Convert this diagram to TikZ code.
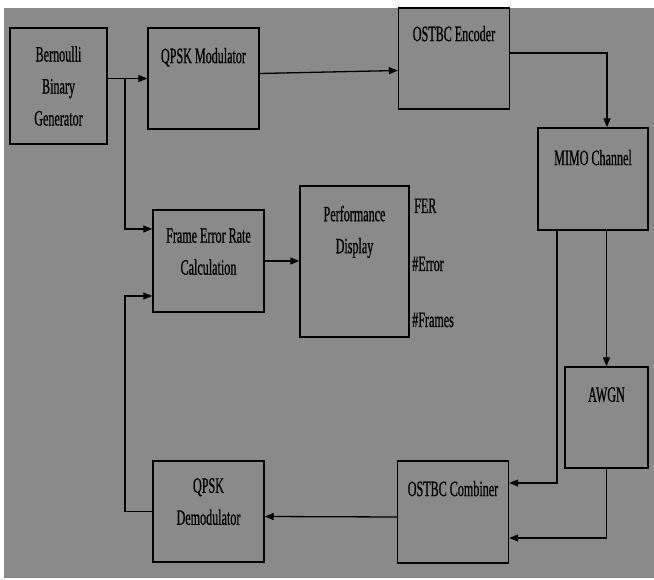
\documentclass[tikz,border=0pt]{standalone}
\usepackage{fontspec}
\usepackage{xcolor}
\usepackage{tikz}
\usetikzlibrary{arrows.meta,calc}
\newfontfamily\blkfont{Liberation Serif}[FakeStretch=0.55, FakeBold=0.6]
\definecolor{bggray}{RGB}{138,138,138}

\begin{document}
\begin{tikzpicture}[
    x=1pt, y=-1pt,
    box/.style={rectangle, draw=black, line width=1.4pt, minimum width=111pt, minimum height=101pt, inner sep=0pt, align=center, font=\blkfont\fontsize{22}{32}\selectfont},
    outlbl/.style={anchor=base west, inner sep=0pt, font=\blkfont\fontsize{22}{32}\selectfont},
    arrow/.style={-{Triangle[length=9pt, width=7pt]}, line width=1.3pt}
]
% Background
\useasboundingbox (0,0) rectangle (654,580);
\fill[white] (0,0) rectangle (654,580);
\fill[bggray] (4,8) rectangle (654,578);

% Transmitter row
\node[box, minimum width=97pt, minimum height=116pt] (gen) at (58.5,86) {Bernoulli\\Binary\\Generator};
\node[box, text depth=46pt] (mod) at (203.5,78.5) {QPSK Modulator};
\node[box, text depth=50pt] (enc) at (454,58.5) {OSTBC Encoder};

% Channel
\node[box, minimum width=110pt, minimum height=102pt, text depth=43pt] (mimo) at (593,179) {MIMO Channel};
\node[box, minimum width=83pt, text depth=46pt] (awgn) at (606.5,417.5) {AWGN};

% Receiver row
\node[box, minimum height=102pt, text depth=47pt] (comb) at (453,512) {OSTBC Combiner};
\node[box, text depth=20pt] (demod) at (208.5,511.5) {QPSK\\Demodulator};

% Error measurement
\node[box, minimum height=102pt, text depth=19pt] (fercalc) at (208.5,261) {Frame Error Rate\\Calculation};
\node[box, minimum width=109pt, minimum height=151pt, text depth=64pt] (perf) at (354.5,261.5) {Performance\\Display};
\node[outlbl] (fer) at (414,213) {FER};
\node[outlbl] (nerr) at (412,271) {\#Error};
\node[outlbl] (nfrm) at (412,327) {\#Frames};

\coordinate (split) at (125,78.5);

\draw[arrow] (gen.east |- mod.west) -- (mod.west);
\draw[arrow] (split) |- ([yshift=32pt]fercalc.west);
\draw[arrow] ([yshift=5pt]mod.east) -- ([yshift=-12pt]enc.west);
\draw[arrow] ([yshift=5.5pt]enc.east) -| ([xshift=14pt]mimo.north);
\draw[arrow] ([xshift=-36pt]mimo.south) |- ([yshift=29pt]comb.east);
\draw[arrow] (awgn.north |- mimo.south) -- (awgn.north);
\draw[arrow] (awgn.south) |- ([yshift=-26pt]comb.east);
\draw[arrow] ([yshift=-5pt]comb.west) -- ([yshift=-5pt]demod.east);
\draw[arrow] (demod.west) -- (demod.west -| split) |- ([yshift=-35pt]fercalc.west);
\draw[arrow] (fercalc.east) -- (fercalc.east -| perf.west);

\end{tikzpicture}
\end{document}
